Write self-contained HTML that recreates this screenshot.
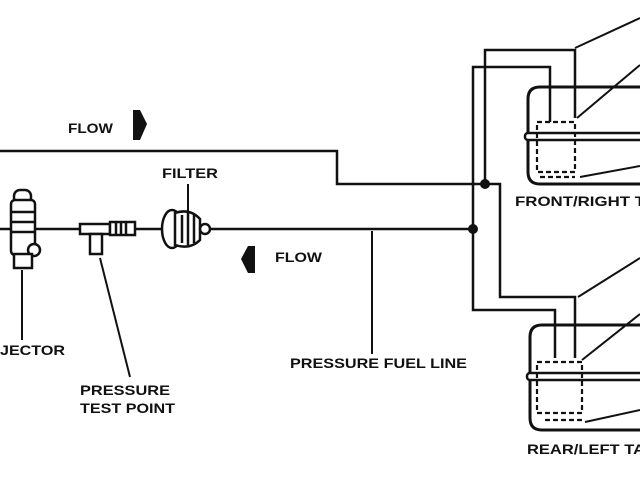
<!DOCTYPE html>
<html><head><meta charset="utf-8"><style>
html,body{margin:0;padding:0;background:#fff;}
svg{display:block;}
text{font-family:"Liberation Sans",sans-serif;font-weight:bold;font-size:14px;fill:#111;}
</style></head><body>
<svg width="640" height="480" viewBox="0 0 640 480" xmlns="http://www.w3.org/2000/svg">
<g stroke="#111" stroke-width="2.5" fill="none" stroke-linejoin="miter">
<polyline points="0,151 337,151 337,184 500,184 500,297 575,297 575,358"/>
<polyline points="485,184 485,50 575,50 575,118"/>
<polyline points="473,229 473,67 550,67 550,122"/>
<polyline points="473,229 473,310 555,310 555,358"/>
<line x1="0" y1="229" x2="473" y2="229"/>
<path d="M540,87 H640 M540,87 Q528,87 528,99 V172 Q528,184 540,184 H640" stroke-width="3"/>
<path d="M542,325 H640 M542,325 Q530,325 530,337 V418 Q530,430 542,430 H640" stroke-width="3"/>
</g>
<rect x="525" y="133" width="118" height="7" rx="3" fill="#fff" stroke="#111" stroke-width="2.5"/>
<rect x="527" y="373" width="116" height="7" rx="3" fill="#fff" stroke="#111" stroke-width="2.5"/>
<g stroke="#111" stroke-width="2.2" fill="none" stroke-dasharray="5,3">
<path d="M537,122 H575 V172 H537 Z"/>
<path d="M540,177 H575"/>
<path d="M537,362 H582 V413 H537 Z"/>
<path d="M545,420 H585"/>
</g>
<g stroke="#111" stroke-width="2">
<line x1="575" y1="48" x2="640" y2="18"/>
<line x1="577" y1="118" x2="640" y2="65"/>
<line x1="580" y1="177" x2="640" y2="166"/>
<line x1="578" y1="297" x2="640" y2="258"/>
<line x1="582" y1="360" x2="640" y2="314"/>
<line x1="585" y1="422" x2="640" y2="410"/>
<line x1="22" y1="270" x2="22" y2="340"/>
<line x1="100" y1="258" x2="130" y2="377"/>
<line x1="188" y1="184" x2="188" y2="218"/>
<line x1="372" y1="231" x2="372" y2="354"/>
</g>
<circle cx="485" cy="184" r="5" fill="#111"/>
<circle cx="473" cy="229" r="5" fill="#111"/>
<path d="M133,110 L140,110 L147,124 L140,140 L133,140 Z" fill="#111"/>
<path d="M255,246 L248,246 L241,259 L248,273 L255,273 Z" fill="#111"/>
<g stroke="#111" stroke-width="2.5" fill="#fff">
<rect x="14" y="190" width="17" height="14" rx="6"/>
<rect x="11" y="200" width="24" height="55" rx="4"/>
<circle cx="34" cy="250" r="6"/>
<rect x="14" y="254" width="18" height="14"/>
<line x1="12" y1="212" x2="34" y2="212"/><line x1="12" y1="222" x2="34" y2="222"/><line x1="12" y1="232" x2="34" y2="232"/>
<rect x="80" y="224" width="30" height="10"/>
<rect x="90" y="234" width="12" height="20"/>
<rect x="110" y="222" width="25" height="13"/>
<line x1="116" y1="222" x2="116" y2="235"/><line x1="121" y1="222" x2="121" y2="235"/><line x1="126" y1="222" x2="126" y2="235"/>
<ellipse cx="172" cy="229" rx="10" ry="19"/>
<path d="M175,213 Q190,208 200,219 L200,240 Q190,250 175,245 Z"/>
<circle cx="205" cy="229" r="5"/>
<line x1="182" y1="215" x2="182" y2="243"/><line x1="188" y1="213" x2="188" y2="245"/><line x1="194" y1="215" x2="194" y2="243"/>
</g>
<text x="68" y="133" textLength="45" lengthAdjust="spacingAndGlyphs">FLOW</text>
<text x="162" y="178" textLength="56" lengthAdjust="spacingAndGlyphs">FILTER</text>
<text x="275" y="262" textLength="47" lengthAdjust="spacingAndGlyphs">FLOW</text>
<text x="0" y="355" textLength="65" lengthAdjust="spacingAndGlyphs">JECTOR</text>
<text x="290" y="368" textLength="177" lengthAdjust="spacingAndGlyphs">PRESSURE FUEL LINE</text>
<text x="80" y="395" textLength="90" lengthAdjust="spacingAndGlyphs">PRESSURE</text>
<text x="80" y="413" textLength="95" lengthAdjust="spacingAndGlyphs">TEST POINT</text>
<text x="515" y="206" textLength="130" lengthAdjust="spacingAndGlyphs">FRONT/RIGHT T</text>
<text x="527" y="454" textLength="118" lengthAdjust="spacingAndGlyphs">REAR/LEFT TA</text>
</svg>
</body></html>
